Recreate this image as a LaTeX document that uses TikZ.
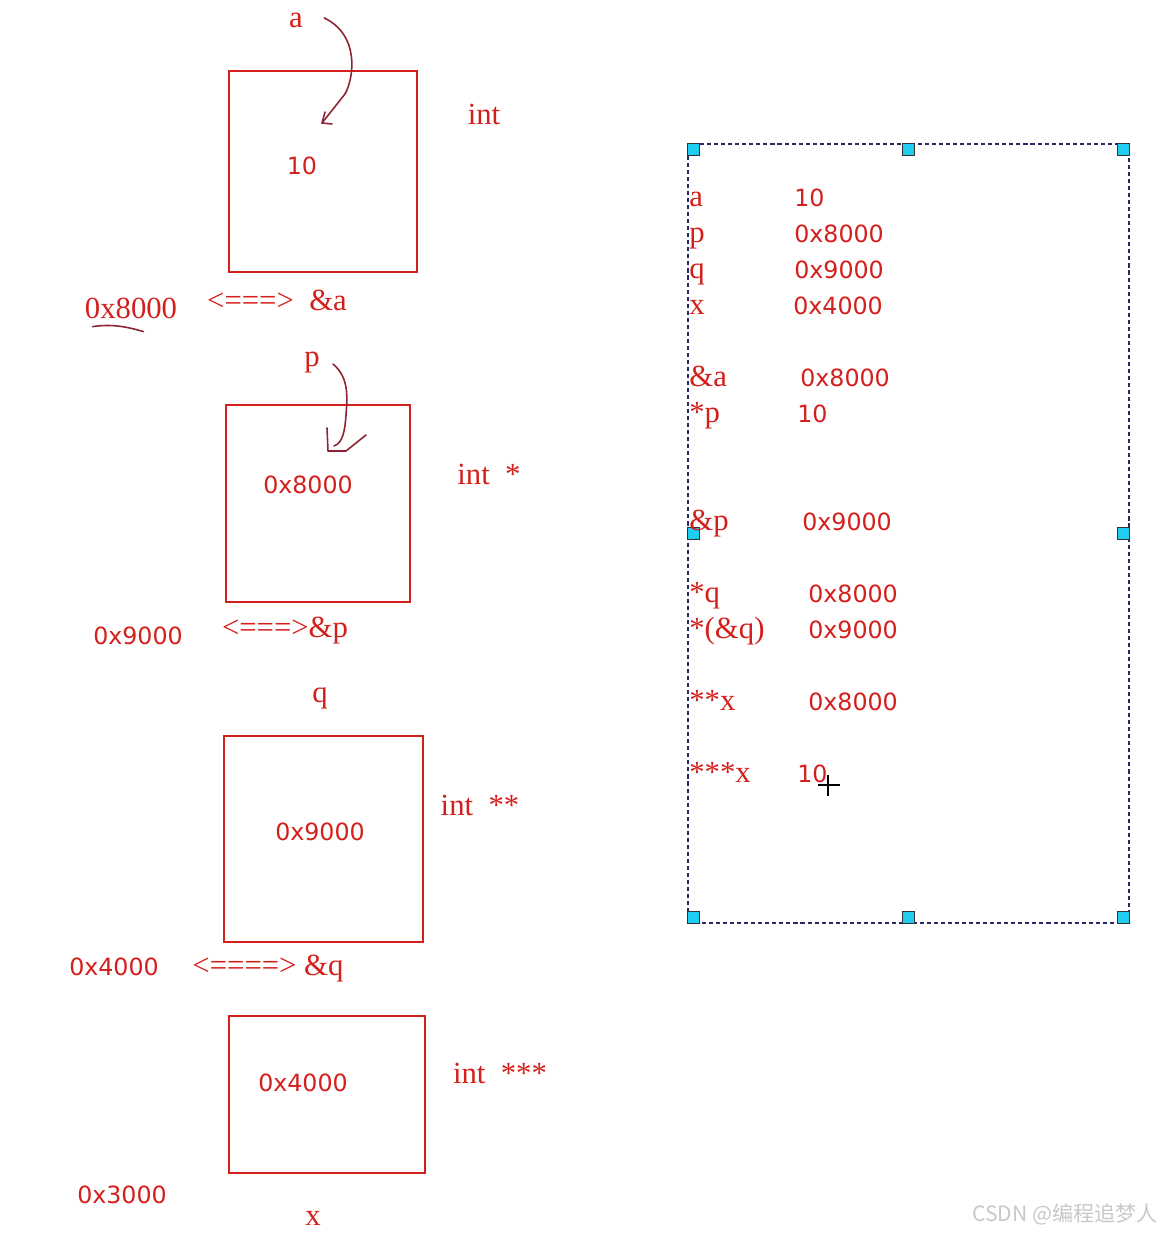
\documentclass[tikz,border=0pt]{standalone}
\usepackage{fontspec}
\setmainfont{Liberation Serif}
\newfontfamily\numfont{DejaVu Sans}
\newfontfamily\cjkfont{Noto Sans CJK SC}
\usepackage{xcolor}
\usepackage{tikz}
\usetikzlibrary{positioning,arrows.meta}

\definecolor{inkred}{RGB}{212,32,28}
\definecolor{penred}{RGB}{140,36,52}
\definecolor{framenavy}{RGB}{40,40,100}
\definecolor{handlecyan}{RGB}{30,205,240}
\definecolor{markgray}{RGB}{200,200,200}

\begin{document}
\begin{tikzpicture}[
  x=0.02cm, y=-0.02cm,
  cell/.style={draw=inkred, line width=1.4pt, inner sep=0pt},
  lbl/.style={inkred, inner sep=0pt, anchor=base, font=\fontsize{17.5}{20}\selectfont},
  num/.style={inkred, inner sep=0pt, anchor=base, font=\numfont\fontsize{13.5}{16}\selectfont},
  pen/.style={penred, line width=0.9pt, line cap=round, line join=round},
  memo/.style={draw=framenavy, line width=0.8pt, dash pattern=on 2.3pt off 1.7pt, inner sep=0pt},
  handle/.style={draw=black!80, fill=handlecyan, line width=0.5pt, minimum size=0.23cm, inner sep=0pt}
]
  \useasboundingbox (0,0) rectangle (1162,1234);

  % memory cells
  \node[cell, minimum width=3.76cm, minimum height=4.02cm] (cellA) at (323,171.5) {};
  \node[cell, minimum width=3.68cm, minimum height=3.94cm] (cellP) at (318,503.5) {};
  \node[cell, minimum width=3.98cm, minimum height=4.12cm] (cellQ) at (323.5,839) {};
  \node[cell, minimum width=3.92cm, minimum height=3.14cm] (cellX) at (327,1094.5) {};

  % a
  \node[lbl] (nameA) at (296,27) {a};
  \node[num] (valA) at (302,174) {10};
  \node[lbl] (typeA) at (484,124) {int};
  \node[num, font=\fontsize{17.5}{20}\selectfont] (adrA) at (131,318) {0x8000};
  \node[lbl] (refA) at (277,310) {<===>\ \ \&a};

  % p
  \node[lbl] (nameP) at (312,366) {p};
  \node[num] (valP) at (308,493) {0x8000};
  \node[lbl] (typeP) at (489,484) {int\ \ *};
  \node[num] (adrP) at (138,644) {0x9000};
  \node[lbl] (refP) at (285,637) {<===>\&p};

  % q
  \node[lbl] (nameQ) at (320,702) {q};
  \node[num] (valQ) at (320,840) {0x9000};
  \node[lbl] (typeQ) at (480,815) {int\ \ **};
  \node[num] (adrQ) at (114,975) {0x4000};
  \node[lbl] (refQ) at (268,975) {<====>\ \&q};

  % x
  \node[num] (valX) at (303,1091) {0x4000};
  \node[lbl] (typeX) at (500,1083) {int\ \ ***};
  \node[num] (adrX) at (122,1203) {0x3000};
  \node[lbl] (nameX) at (313,1225) {x};

  % hand strokes
  \coordinate (tipA) at (322,123);
  \draw[pen] ([shift={(21,-2)}]nameA.east) .. controls (360,35) and (354,78) .. (345,94) -- (tipA);
  \draw[pen] (325,112) -- (tipA) -- (332,124);
  \draw[pen] ([shift={(-85,8)}]adrA.south east) .. controls (110,324) and (125,326) .. ([shift={(-34,13)}]adrA.south east);
  \coordinate (tipP) at (334,446);
  \draw[pen] ([shift={(13,2)}]nameP.east) .. controls (350,378) and (347,400) .. (346,415) .. controls (345,430) and (343,443) .. (tipP);
  \draw[pen] (327,428) -- (328,451) -- (346,451) -- (366,435);

  % watch box
  \node[memo, minimum width=8.82cm, minimum height=15.58cm] (watch) at (908.5,533.5) {};
  \foreach \anc in {north west,north,north east,west,east,south west,south,south east}
    \node[handle, anchor=\anc] at (watch.\anc) {};

  \foreach \key/\val/\y/\vx [count=\i] in {
      a/10/206/794, p/0x8000/242/794, q/0x9000/278/794, x/0x4000/314/793,
      \&a/0x8000/386/800, *p/10/422/797, \&p/0x9000/530/802,
      *q/0x8000/602/808, *(\&q)/0x9000/638/808, **x/0x8000/710/808, ***x/10/782/797} {
    \node[lbl, anchor=base west] (key\i) at (689,\y) {\key};
    \node[num, anchor=base west] (val\i) at (\vx,\y) {\val};
  }

  % cursor
  \draw[black, line width=0.6pt] (818,785) -- (840,785) (828,775) -- (828,796);

  \node[markgray, font=\cjkfont\fontsize{12}{14}\selectfont, anchor=base east, inner sep=0pt] (mark) at (1158,1221) {CSDN @编程追梦人};
\end{tikzpicture}
\end{document}
